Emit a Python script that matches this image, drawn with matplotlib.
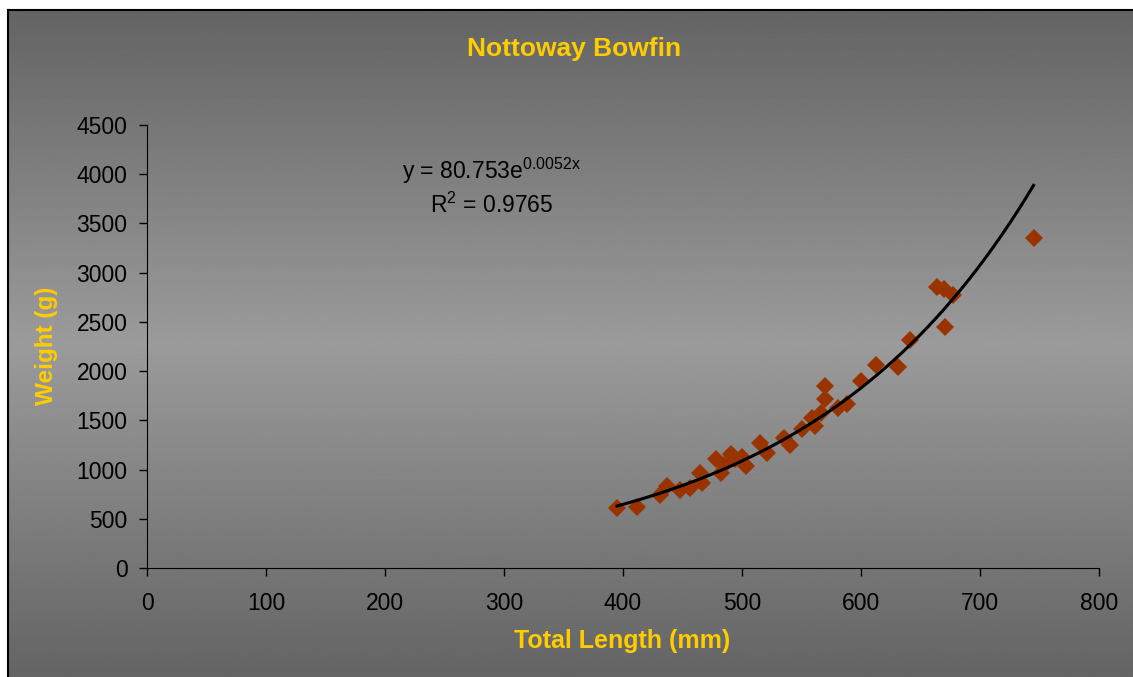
import numpy as np
import matplotlib
matplotlib.use('Agg')
import matplotlib.pyplot as plt

plt.rcParams['font.family'] = ['Liberation Sans', 'DejaVu Sans']
plt.rcParams['mathtext.fontset'] = 'custom'
plt.rcParams['mathtext.rm'] = 'Liberation Sans'
plt.rcParams['mathtext.it'] = 'Liberation Sans'

#------------------------------------------------------------------------------
# data
length_mm = [395, 412, 431, 437, 448, 456, 465, 466, 478, 482, 485, 491, 494,
             500, 503, 515, 521, 535, 540, 550, 559, 561, 566, 570, 570, 581,
             588, 600, 613, 631, 641, 664, 670, 671, 677, 745]
weight_g = [610, 617, 746, 830, 797, 815, 966, 865, 1105, 968, 1050, 1153, 1110,
            1128, 1040, 1269, 1170, 1322, 1254, 1415, 1526, 1440, 1577, 1847, 1719, 1628,
            1661, 1898, 2062, 2042, 2316, 2855, 2835, 2444, 2770, 3349]

# exponential trendline as printed on the chart
trend_a = 80.753
trend_b = 0.0052
r_squared = 0.9765

x_ticks = [0, 100, 200, 300, 400, 500, 600, 700, 800]
y_ticks = [0, 500, 1000, 1500, 2000, 2500, 3000, 3500, 4000, 4500]

gold = '#FFCC00'

#------------------------------------------------------------------------------
W, H = 1133, 677
fig = plt.figure(figsize=(W / 100, H / 100), dpi=100)
fig.patch.set_facecolor('white')

# gray gradient panel (dark - light - dark)
bg = fig.add_axes([8 / W, 0, 1 - 8 / W, (H - 10) / H])
t = np.linspace(0, 1, 400)
shade = 100 + 55 * (1 - np.abs(t - 0.5) * 2)
bg.imshow(shade[:, None], aspect='auto', cmap='gray', vmin=0, vmax=255,
          extent=[0, 1, 0, 1])
bg.set_xticks([])
bg.set_yticks([])
for side in ['right', 'bottom']:
    bg.spines[side].set_visible(False)
for side in ['left', 'top']:
    bg.spines[side].set_linewidth(1.5)
    bg.spines[side].set_color('black')

ax = fig.add_axes([147 / W, (H - 568) / H, 952 / W, 443 / H])
ax.patch.set_alpha(0)

ax.plot(length_mm, weight_g, linestyle='none', marker='D', markersize=9.5,
        color='#993300', markeredgewidth=0, zorder=2)

xs = np.linspace(min(length_mm), max(length_mm), 200)
ax.plot(xs, trend_a * np.exp(trend_b * xs), color='black', linewidth=2.2, zorder=3)

ax.set_xlim(0, 800)
ax.set_ylim(0, 4500)
ax.set_xticks(x_ticks)
ax.set_yticks(y_ticks)
ax.spines['top'].set_visible(False)
ax.spines['right'].set_visible(False)
ax.spines['left'].set_color('black')
ax.spines['bottom'].set_color('black')
ax.tick_params(axis='x', direction='out', length=6, width=1, pad=11, labelsize=16.5)
ax.tick_params(axis='y', direction='out', length=6, width=1, pad=8, labelsize=16.5)

# trendline label, placed in figure pixels like the original
fig.text(492 / W, 1 - 179 / H, 'y = %.3fe$^{%.4fx}$' % (trend_a, trend_b),
         fontsize=16.5, ha='center', va='baseline')
fig.text(492 / W, 1 - 213 / H, 'R$^{2}$ = %.4f' % r_squared,
         fontsize=16.5, ha='center', va='baseline')

fig.text(574 / W, 1 - 49 / H, 'Nottoway Bowfin', color=gold, fontsize=19,
         fontweight='bold', ha='center', va='center')
fig.text(622 / W, 1 - 641 / H, 'Total Length (mm)', color=gold, fontsize=18,
         fontweight='bold', ha='center', va='center')
fig.text(47 / W, 1 - 346 / H, 'Weight (g)', color=gold, fontsize=17.5,
         fontweight='bold', ha='center', va='center', rotation=90)

plt.savefig('out.png', dpi=100)
